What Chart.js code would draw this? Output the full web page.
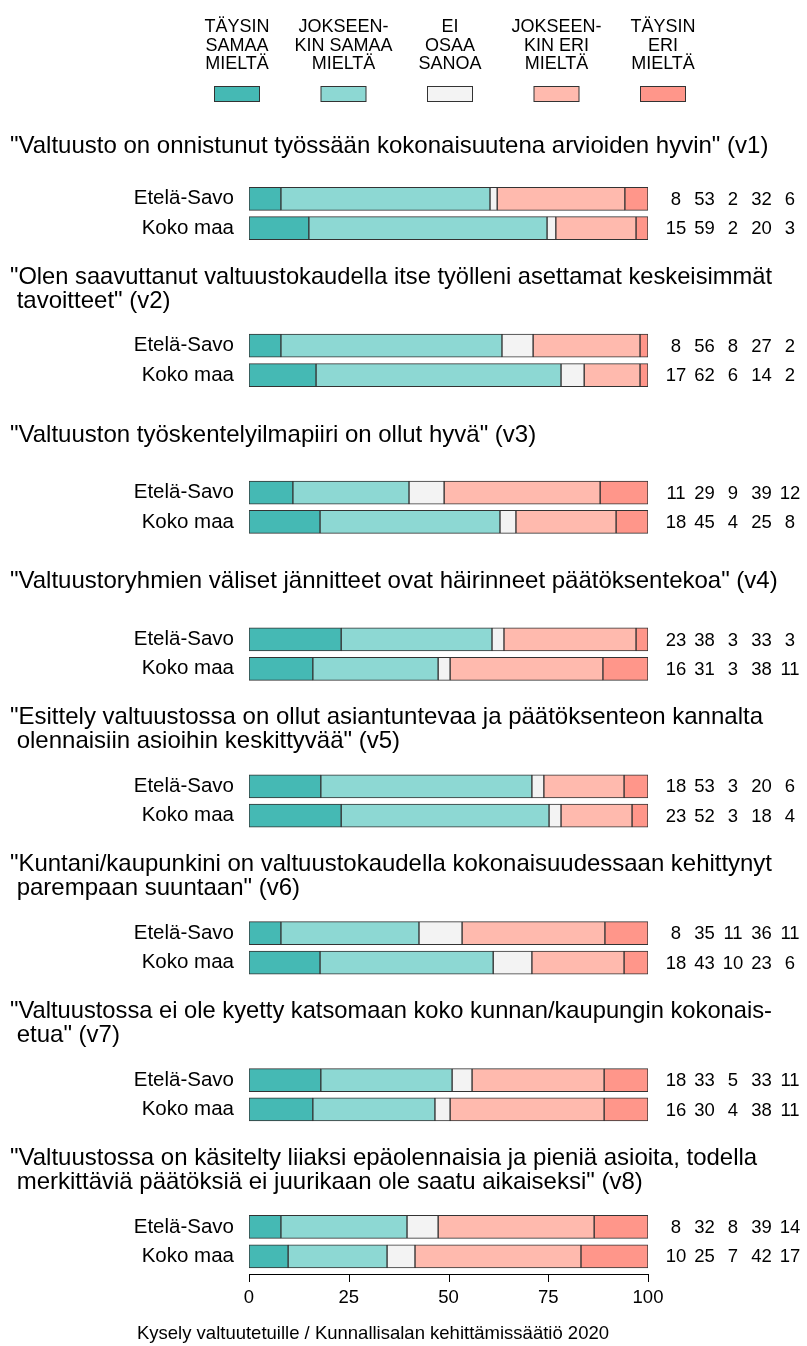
<!DOCTYPE html>
<html>
<head>
<meta charset="utf-8">
<script src="https://cdn.jsdelivr.net/npm/chart.js@4.4.1/dist/chart.umd.min.js"></script>
<style>
    html, body { margin: 0; padding: 0; background: #fff; }
    #wrap { width: 807px; height: 1346px; }
</style>
</head>
<body>
<div id="wrap"><canvas id="likertChart" width="807" height="1346"></canvas></div>
<script>
// answer categories (legend), left to right
const answerLabels = [
    ['TÄYSIN', 'SAMAA', 'MIELTÄ'],
    ['JOKSEEN-', 'KIN SAMAA', 'MIELTÄ'],
    ['EI', 'OSAA', 'SANOA'],
    ['JOKSEEN-', 'KIN ERI', 'MIELTÄ'],
    ['TÄYSIN', 'ERI', 'MIELTÄ']
];
const answerColors = ['#45b9b4', '#8dd8d3', '#f3f3f3', '#ffbaae', '#ff968a'];

const regions = ['Etelä-Savo', 'Koko maa'];

const questions = [
    ['"Valtuusto on onnistunut työssään kokonaisuutena arvioiden hyvin" (v1)'],
    ['"Olen saavuttanut valtuustokaudella itse työlleni asettamat keskeisimmät', ' tavoitteet" (v2)'],
    ['"Valtuuston työskentelyilmapiiri on ollut hyvä" (v3)'],
    ['"Valtuustoryhmien väliset jännitteet ovat häirinneet päätöksentekoa" (v4)'],
    ['"Esittely valtuustossa on ollut asiantuntevaa ja päätöksenteon kannalta', ' olennaisiin asioihin keskittyvää" (v5)'],
    ['"Kuntani/kaupunkini on valtuustokaudella kokonaisuudessaan kehittynyt', ' parempaan suuntaan" (v6)'],
    ['"Valtuustossa ei ole kyetty katsomaan koko kunnan/kaupungin kokonais-', ' etua" (v7)'],
    ['"Valtuustossa on käsitelty liiaksi epäolennaisia ja pieniä asioita, todella', ' merkittäviä päätöksiä ei juurikaan ole saatu aikaiseksi" (v8)']
];

// bar shares (%) as drawn in the picture, per question
const etelaSavo = [
    [8.0, 52.4, 1.8, 32.0, 5.8],
    [8.0, 55.4, 7.8, 26.8, 2.0],
    [11.0, 29.1, 8.8, 39.1, 12.0],
    [23.1, 37.8, 3.0, 33.1, 3.0],
    [18.0, 52.9, 3.0, 20.1, 6.0],
    [8.0, 34.6, 10.8, 35.8, 10.8],
    [18.0, 32.9, 5.0, 33.1, 11.0],
    [8.0, 31.6, 7.8, 39.1, 13.5]
];
const kokoMaa = [
    [15.0, 59.7, 2.2, 20.1, 3.0],
    [16.8, 61.4, 5.8, 14.0, 2.0],
    [17.8, 45.1, 4.0, 25.1, 8.0],
    [16.0, 31.4, 3.0, 38.3, 11.3],
    [23.1, 52.1, 3.0, 17.8, 4.0],
    [17.8, 43.4, 9.7, 23.1, 6.0],
    [16.0, 30.6, 3.8, 38.6, 11.0],
    [9.8, 24.8, 7.0, 41.6, 16.8]
];

// rounded numbers printed to the right of the bars
const etelaSavoPct = [
    [8, 53, 2, 32, 6],
    [8, 56, 8, 27, 2],
    [11, 29, 9, 39, 12],
    [23, 38, 3, 33, 3],
    [18, 53, 3, 20, 6],
    [8, 35, 11, 36, 11],
    [18, 33, 5, 33, 11],
    [8, 32, 8, 39, 14]
];
const kokoMaaPct = [
    [15, 59, 2, 20, 3],
    [17, 62, 6, 14, 2],
    [18, 45, 4, 25, 8],
    [16, 31, 3, 38, 11],
    [23, 52, 3, 18, 4],
    [18, 43, 10, 23, 6],
    [16, 30, 4, 38, 11],
    [10, 25, 7, 42, 17]
];

const xTicks = [0, 25, 50, 75, 100];
const footer = 'Kysely valtuutetuille / Kunnallisalan kehittämissäätiö 2020';

// each question takes 5 rows: 3 for the title, then the two bars
const ROWS = 5;
const rowLabels = [];
questions.forEach(() => rowLabels.push('', '', '', regions[0], regions[1]));

const datasets = answerLabels.map((lab, k) => {
    const data = rowLabels.map(() => null);
    questions.forEach((q, g) => {
        data[g * ROWS + 3] = etelaSavo[g][k];
        data[g * ROWS + 4] = kokoMaa[g][k];
    });
    return {
        label: lab.join(' '),
        data: data,
        backgroundColor: answerColors[k],
        borderColor: '#333',
        borderWidth: 1,
        borderSkipped: false,
        barThickness: 23
    };
});

const FONT = "'Liberation Sans', Arial, sans-serif";

const extras = {
    id: 'extras',
    afterDraw(chart) {
        const ctx = chart.ctx;
        const xs = chart.scales.x;
        const ys = chart.scales.y;
        ctx.save();
        ctx.fillStyle = '#000';

        // legend
        ctx.textAlign = 'center';
        ctx.textBaseline = 'alphabetic';
        ctx.font = '18px ' + FONT;
        answerLabels.forEach((lines, k) => {
            const cx = 237 + k * 106.5;
            lines.forEach((t, i) => ctx.fillText(t, cx, 32 + i * 18.6));
            ctx.fillStyle = answerColors[k];
            ctx.fillRect(cx - 22.5, 86, 45, 15);
            ctx.strokeStyle = '#333';
            ctx.lineWidth = 1;
            ctx.strokeRect(cx - 22.5, 86.5, 45, 15);
            ctx.fillStyle = '#000';
        });

        // question titles
        ctx.textAlign = 'left';
        ctx.font = '24px ' + FONT;
        questions.forEach((lines, g) => {
            const yBar = ys.getPixelForValue(g * ROWS + 3);
            if (lines.length === 2) {
                ctx.fillText(lines[0], 10, yBar - 62, 762);
                ctx.fillText(lines[1], 10, yBar - 38, 762);
            } else {
                const off = g === 0 ? 46 : 51;
                ctx.fillText(lines[0], 10, yBar - off, 772);
            }
        });

        // printed percentages
        ctx.textAlign = 'center';
        ctx.textBaseline = 'middle';
        ctx.font = '18.5px ' + FONT;
        questions.forEach((q, g) => {
            [etelaSavoPct[g], kokoMaaPct[g]].forEach((vals, r) => {
                const y = ys.getPixelForValue(g * ROWS + 3 + r);
                vals.forEach((v, i) => ctx.fillText(String(v), 676 + i * 28.5, y + 1));
            });
        });

        // x axis line and ticks
        const yAxis = chart.chartArea.bottom + 3;
        ctx.strokeStyle = '#000';
        ctx.lineWidth = 1;
        ctx.beginPath();
        ctx.moveTo(xs.getPixelForValue(0), yAxis + 0.5);
        ctx.lineTo(xs.getPixelForValue(100), yAxis + 0.5);
        xTicks.forEach(v => {
            const px = Math.round(xs.getPixelForValue(v)) + 0.5;
            ctx.moveTo(px, yAxis);
            ctx.lineTo(px, yAxis + 8);
        });
        ctx.stroke();

        // source
        ctx.textBaseline = 'alphabetic';
        ctx.font = '18.5px ' + FONT;
        ctx.fillText(footer, 373, 1339);
        ctx.restore();
    }
};

new Chart(document.getElementById('likertChart'), {
    type: 'bar',
    data: { labels: rowLabels, datasets: datasets },
    options: {
        indexAxis: 'y',
        responsive: false,
        animation: false,
        layout: { padding: { top: 96, right: 159, left: 0, bottom: 0 } },
        plugins: {
            legend: { display: false },
            tooltip: { enabled: false }
        },
        scales: {
            x: {
                stacked: true,
                min: 0,
                max: 100,
                afterBuildTicks: s => { s.ticks = xTicks.map(v => ({ value: v })); },
                afterFit: s => { s.height = 75; },
                grid: { display: false },
                border: { display: false },
                ticks: { color: '#000', font: { family: FONT, size: 18.5 }, padding: 8, maxRotation: 0 }
            },
            y: {
                stacked: true,
                afterFit: s => { s.width = 249; },
                grid: { display: false },
                border: { display: false },
                ticks: { color: '#000', font: { family: FONT, size: 20.5 }, padding: 7, autoSkip: false }
            }
        }
    },
    plugins: [extras]
});
</script>
</body>
</html>
